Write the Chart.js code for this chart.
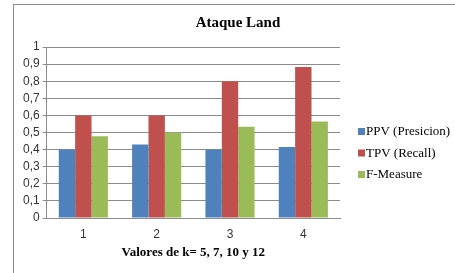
<!DOCTYPE html>
<html>
<head>
<meta charset="utf-8">
<script src="https://cdn.jsdelivr.net/npm/chart.js@4/dist/chart.umd.min.js"></script>
<style>
  body { margin: 0; background: #fff; }
  #frame { position: absolute; left: 13px; top: 4px; width: 470px; height: 290px; border: 1px solid #8c8c8c; }
  #wrap { position: absolute; left: 0; top: 0; width: 455px; height: 273px; }
</style>
</head>
<body>
<div id="frame"></div>
<div id="wrap"><canvas id="myChart"></canvas></div>
<script>
// data
var categories = ['1', '2', '3', '4'];
var ppv = [0.40, 0.43, 0.40, 0.415];
var tpv = [0.60, 0.60, 0.80, 0.883];
var fMeasure = [0.478, 0.50, 0.533, 0.565];
var seriesNames = ['PPV (Presicion)', 'TPV (Recall)', 'F-Measure'];
var yTicks = [0, 0.1, 0.2, 0.3, 0.4, 0.5, 0.6, 0.7, 0.8, 0.9, 1];
var chartTitle = 'Ataque Land';

var colors = ['#4F81BD', '#C0504D', '#9BBB59'];

// title + legend drawn by hand so they sit where Excel put them
var sideLegend = {
    id: 'sideLegend',
    afterDraw: function (chart) {
        var ctx = chart.ctx;
        ctx.save();
        ctx.fillStyle = '#000';
        ctx.textAlign = 'center';
        ctx.textBaseline = 'middle';
        ctx.font = 'bold 15px "Liberation Serif"';
        ctx.fillText(chartTitle, 238, 23);

        ctx.textAlign = 'left';
        ctx.font = '13px "Liberation Serif"';
        chart.data.datasets.forEach(function (ds, i) {
            var y = 132 + i * 21.5;
            ctx.fillStyle = ds.backgroundColor;
            ctx.fillRect(358, y - 4, 7, 7);
            ctx.fillStyle = '#000';
            ctx.fillText(ds.label, 366, y);
        });
        ctx.restore();
    }
};

function makeGraph() {
    var ctx = document.getElementById('myChart');
    new Chart(ctx, {
        type: 'bar',
        data: {
            labels: categories,
            datasets: [ppv, tpv, fMeasure].map(function (vals, i) {
                return {
                    label: seriesNames[i],
                    data: vals,
                    backgroundColor: colors[i],
                    categoryPercentage: 0.67,
                    barPercentage: 1.0
                };
            })
        },
        options: {
            responsive: true,
            maintainAspectRatio: false,
            animation: false,
            layout: { padding: { left: 20, right: 115, top: 47, bottom: 13 } },
            plugins: {
                legend: { display: false },
                tooltip: { enabled: false },
                title: { display: false }
            },
            scales: {
                x: {
                    grid: { display: false },
                    border: { color: '#8c8c8c' },
                    ticks: { color: '#333', font: { family: '"Liberation Sans"', size: 12 }, padding: 1 },
                    title: {
                        display: true,
                        text: 'Valores de k= 5, 7, 10 y 12',
                        color: '#000',
                        font: { family: '"Liberation Serif"', size: 13, weight: 'bold' },
                        padding: { top: 2, bottom: 0 }
                    }
                },
                y: {
                    min: 0,
                    max: 1,
                    afterBuildTicks: function (axis) {
                        axis.ticks = yTicks.map(function (v) { return { value: v }; });
                    },
                    grid: { color: '#8c8c8c', tickLength: 4 },
                    border: { color: '#8c8c8c' },
                    ticks: {
                        autoSkip: false,
                        color: '#333',
                        font: { family: '"Liberation Sans"', size: 12 },
                        padding: 3,
                        callback: function (v) {
                            if (v === 0 || v === 1) return String(v);
                            return v.toFixed(1).replace('.', ',');
                        }
                    }
                }
            }
        },
        plugins: [sideLegend]
    });
}

window.onload = function () {
    makeGraph();
};
</script>
</body>
</html>
